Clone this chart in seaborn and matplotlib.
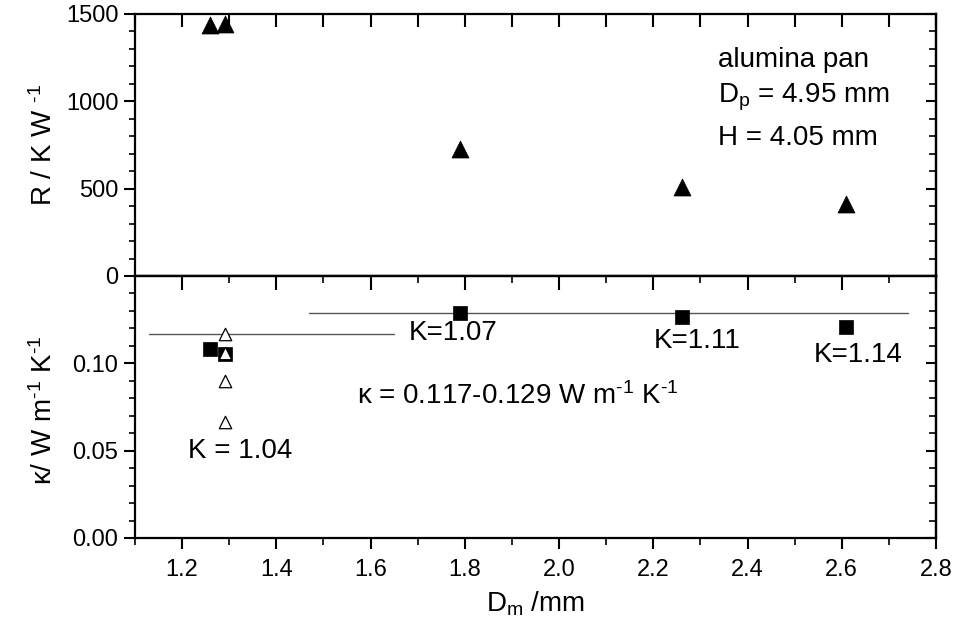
import numpy as np
import pandas as pd
import matplotlib
matplotlib.use("Agg")
import matplotlib.pyplot as plt
from matplotlib.ticker import MultipleLocator
import seaborn as sns

# ---- data ----
r_dm = [1.26, 1.29, 1.79, 2.26, 2.61]
r_val = [1437, 1440, 725, 510, 415]

k_dm = [1.26, 1.29, 1.79, 2.26, 2.61]
k_val = [0.108, 0.1055, 0.129, 0.1265, 0.121]

open_dm = [1.29, 1.29, 1.29, 1.29]
open_val = [0.117, 0.106, 0.0898, 0.0665]

line1_x = [1.13, 1.65]
line1_y = [0.117, 0.117]
line2_x = [1.47, 2.74]
line2_y = [0.129, 0.129]

k_labels = ["K=1.07", "K=1.11", "K=1.14", "K = 1.04"]

sns.set_style("ticks")
plt.rcParams["font.family"] = ["Liberation Sans", "DejaVu Sans"]
plt.rcParams["mathtext.fontset"] = "custom"
plt.rcParams["mathtext.rm"] = "Liberation Sans"
plt.rcParams["mathtext.it"] = "Liberation Sans:italic"
plt.rcParams["mathtext.bf"] = "Liberation Sans:bold"
for key in ["text.color", "axes.labelcolor", "xtick.color", "ytick.color", "axes.edgecolor"]:
    plt.rcParams[key] = "black"

W, H = 955, 627
fig = plt.figure(figsize=(W / 100, H / 100), dpi=100)
left = 135 / W
width = (936 - 135) / W
ax1 = fig.add_axes([left, (H - 276) / H, width, 262 / H])
ax2 = fig.add_axes([left, (H - 538) / H, width, 262 / H])

df_r = pd.DataFrame({"Dm": r_dm, "R": r_val})
df_k = pd.DataFrame({"Dm": k_dm, "k": k_val})
df_o = pd.DataFrame({"Dm": open_dm, "k": open_val})

sns.scatterplot(data=df_r, x="Dm", y="R", ax=ax1, marker="^", s=150,
                color="black", edgecolor="black", linewidth=0.5, zorder=3)
sns.lineplot(x=line1_x, y=line1_y, ax=ax2, color="#555555", lw=1.0, zorder=2)
sns.lineplot(x=line2_x, y=line2_y, ax=ax2, color="#555555", lw=1.0, zorder=2)
sns.scatterplot(data=df_k, x="Dm", y="k", ax=ax2, marker="s", s=95,
                color="black", edgecolor="black", linewidth=0.5, zorder=3)
sns.scatterplot(data=df_o, x="Dm", y="k", ax=ax2, marker="^", s=80,
                facecolor="white", edgecolor="black", linewidth=0.9, zorder=4)

for ax in (ax1, ax2):
    ax.set_xlim(1.1, 2.8)
    for sp in ax.spines.values():
        sp.set_visible(True)
        sp.set_linewidth(1.6)
        sp.set_color("black")
    ax.xaxis.set_major_locator(MultipleLocator(0.2))
    ax.xaxis.set_minor_locator(MultipleLocator(0.1))
    ax.set_xlabel("")
    ax.set_ylabel("")

ax1.set_ylim(0, 1500)
ax1.yaxis.set_major_locator(MultipleLocator(500))
ax1.yaxis.set_minor_locator(MultipleLocator(100))
ax2.set_ylim(0, 0.15)
ax2.yaxis.set_major_locator(MultipleLocator(0.05))
ax2.yaxis.set_minor_locator(MultipleLocator(0.01))
ax2.yaxis.set_major_formatter(matplotlib.ticker.FormatStrFormatter("%.2f"))
ax2.set_yticks([0.0, 0.05, 0.10])

# tick styles
ax1.tick_params(axis="y", which="major", direction="out", length=8, width=1.5,
                left=True, right=False, labelsize=17, pad=4)
ax1.tick_params(axis="y", which="minor", direction="out", length=4, width=1.2, left=True)
ax1.tick_params(axis="x", which="both", direction="in", length=9, width=1.5,
                top=True, bottom=False, labelbottom=False, labeltop=False)
ax2.tick_params(axis="y", which="major", direction="out", length=8, width=1.5,
                left=True, labelsize=17, pad=4)
ax2.tick_params(axis="y", which="minor", direction="out", length=4, width=1.2, left=True)
ax2.tick_params(axis="x", which="major", direction="out", length=8, width=1.5,
                bottom=True, top=False, labelsize=17, pad=7)
ax2.tick_params(axis="x", which="minor", direction="out", length=5, width=1.2, bottom=True)

# inward ticks on right spines and lower panel's top spine
for ax in (ax1, ax2):
    sec = ax.secondary_yaxis("right")
    sec.yaxis.set_major_locator(ax.yaxis.get_major_locator())
    sec.yaxis.set_minor_locator(ax.yaxis.get_minor_locator())
    sec.tick_params(which="major", direction="in", length=7, width=1.5, labelright=False)
    sec.tick_params(which="minor", direction="in", length=5, width=1.2)
    sec.spines["right"].set_linewidth(1.6)
secx = ax2.secondary_xaxis("top")
secx.xaxis.set_major_locator(MultipleLocator(0.2))
secx.xaxis.set_minor_locator(MultipleLocator(0.1))
secx.tick_params(which="major", direction="in", length=10, width=1.5, labeltop=False)
secx.tick_params(which="minor", direction="in", length=5, width=1.2)
secx.spines["top"].set_linewidth(1.6)

sup = r"$^{\rm \text{-}1}$"

# labels
fig.text(44 / W, 1 - 145 / H, "R / K W " + sup, rotation=90,
         ha="center", va="center", fontsize=20)
fig.text(44 / W, 1 - 410 / H, "κ/ W m" + sup + " K" + sup, rotation=90,
         ha="center", va="center", fontsize=20)
ax2.set_xlabel(r"D$_{\rm m}$ /mm", fontsize=20, labelpad=6)

# annotations, upper
ax1.text(2.338, 1237, "alumina pan", fontsize=20, ha="left", va="center")
ax1.text(2.338, 1020, r"D$_{\rm p}$ = 4.95 mm", fontsize=20, ha="left", va="center")
ax1.text(2.338, 790, "H = 4.05 mm", fontsize=20, ha="left", va="center")

# annotations, lower
ax2.text(1.681, 0.1176, k_labels[0], fontsize=20, ha="left", va="center")
ax2.text(2.2, 0.1125, k_labels[1], fontsize=20, ha="left", va="center")
ax2.text(2.54, 0.105, k_labels[2], fontsize=20, ha="left", va="center")
ax2.text(1.213, 0.050, k_labels[3], fontsize=20, ha="left", va="center")
ax2.text(1.572, 0.0813, "κ = 0.117-0.129 W m" + sup + " K" + sup,
         fontsize=20, ha="left", va="center")

fig.savefig("out.png", dpi=100)
